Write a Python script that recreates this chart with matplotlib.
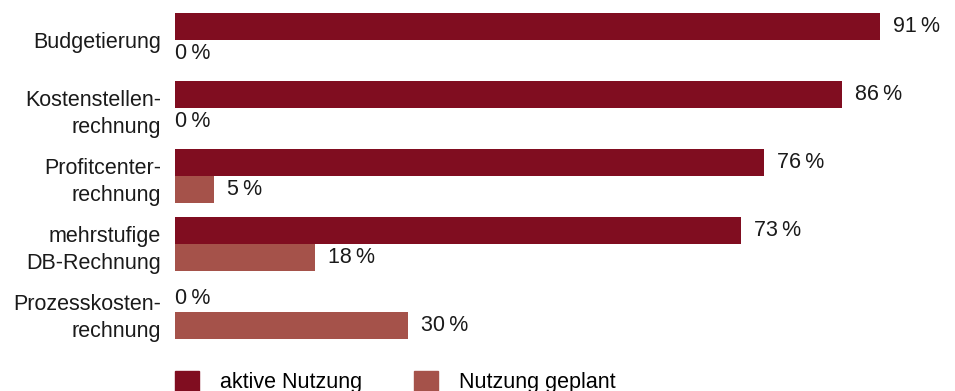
import numpy as np
import matplotlib
matplotlib.use("Agg")
import matplotlib.pyplot as plt
from matplotlib.patches import Patch

plt.rcParams['font.family'] = ['Liberation Sans', 'DejaVu Sans']

# data
categories = ["Budgetierung", "Kostenstellen-\nrechnung", "Profitcenter-\nrechnung",
              "mehrstufige\nDB-Rechnung", "Prozesskosten-\nrechnung"]
aktiv = [91, 86, 76, 73, 0]
geplant = [0, 0, 5, 18, 30]
series_names = ["aktive Nutzung", "Nutzung geplant"]

c_dark = '#800d20'
c_light = '#a5524a'

W, H = 955, 391
fig = plt.figure(figsize=(W / 100, H / 100), dpi=100)
ax = fig.add_axes([175 / W, 1 - 350 / H, 775 / W, 350 / H])

y = np.arange(len(categories))
h = 27 / 68.0

ax.barh(y - h / 2, aktiv, height=h, color=c_dark)
ax.barh(y + h / 2, geplant, height=h, color=c_light)

fs = 15.5
for yi, v in zip(y - h / 2, aktiv):
    off = 13 if v > 0 else 0
    ax.annotate(f"{v}\u2009%", (v, yi), xytext=(off * 0.72, 0), textcoords='offset points',
                va='center', ha='left', fontsize=fs, color='#1a1a1a')
for yi, v in zip(y + h / 2, geplant):
    off = 13 if v > 0 else 0
    ax.annotate(f"{v}\u2009%", (v, yi), xytext=(off * 0.72, 0), textcoords='offset points',
                va='center', ha='left', fontsize=fs, color='#1a1a1a')

ax.set_xlim(0, 100)
ax.set_ylim((350 - 40) / 68.0, -40 / 68.0)
ax.set_yticks(y)
ax.set_yticklabels(categories, fontsize=fs, color='#1a1a1a', linespacing=1.38)
ax.tick_params(axis='y', length=0, pad=10)
ax.set_xticks([])
for s in ax.spines.values():
    s.set_visible(False)

handles = [Patch(color=c_dark), Patch(color=c_light)]
fig.legend(handles, series_names, loc='upper left', bbox_to_anchor=(175 / W, 1 - 371 / H),
           ncol=2, frameon=False, fontsize=fs, handlelength=1.1, handleheight=1.05,
           handletextpad=1.0, columnspacing=2.4, borderpad=0, borderaxespad=0)

fig.savefig("out.png", dpi=100)
